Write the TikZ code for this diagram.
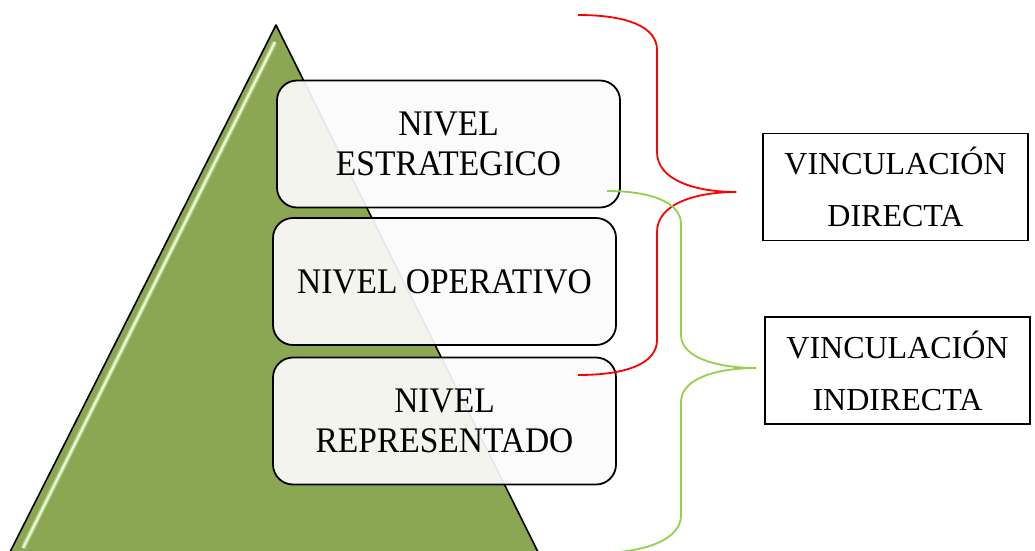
\documentclass[tikz,border=0pt]{standalone}
\usepackage{fontspec}
\setmainfont{Liberation Serif}
\newfontfamily\nivelfont[FakeStretch=0.93]{Liberation Serif}
\usetikzlibrary{calc}
\definecolor{olivo}{RGB}{139,167,83}
\definecolor{brillo}{RGB}{236,248,210}
\definecolor{verdeclaro}{RGB}{146,208,80}
\tikzset{>=stealth,
  nivel/.style={draw=black, line width=1.8pt, rounded corners=20pt, fill=white!97!gray, fill opacity=0.92, text opacity=1, minimum width=343pt, minimum height=127pt, inner sep=0pt, align=center, font=\nivelfont\fontsize{36}{40}\selectfont},
  vinculo/.style={draw=black, line width=1.5pt, fill=white, minimum width=265pt, minimum height=107pt, inner sep=0pt, align=center, font=\fontsize{32}{52}\selectfont},
  llaveroja/.style={red, line width=1.8pt},
  llaveverde/.style={verdeclaro, line width=1.8pt}}
\begin{document}
\begin{tikzpicture}[x=1pt,y=-1pt]

			\useasboundingbox (0,0) rectangle (1035,550);

			% piramide
			\draw [black, line width=1.6pt, line join=round, fill=olivo] (276,25) -- (538,552) -- (10,552) -- cycle;
			\draw [brillo, line width=5pt, opacity=0.4] (275,42) -- (23,548);
			\draw [brillo, line width=2.2pt] (275,42) -- (23,548);

			\node [nivel] (estrategico) at (448.5,144) {NIVEL\\ESTRATEGICO};
			\node [nivel] (operativo) at (444.5,281.5) {NIVEL OPERATIVO};
			\node [nivel] (representado) at (444.5,421) {NIVEL\\REPRESENTADO};

			\node [vinculo] (directa) at (895.5,187) {VINCULACIÓN\\DIRECTA};
			\node [vinculo] (indirecta) at (897.5,370.5) {VINCULACIÓN\\INDIRECTA};

			% llaves
			\coordinate (rojoA) at (578,15);
			\coordinate (rojoB) at (578,375);
			\coordinate (rojoP) at ($(directa.west)+(-26,5)$);
			\coordinate (verdeA) at (607,191);
			\coordinate (verdeB) at (600,553);
			\coordinate (verdeP) at ($(indirecta.west)+(-8,-2.5)$);

			\draw [llaveroja] (rojoA) .. controls (630,15) and (657,28) .. (657,50) -- (657,152) .. controls (657,180) and (695,192) .. (rojoP) .. controls (695,192) and (657,204) .. (657,232) -- (657,340) .. controls (657,362) and (630,375) .. (rojoB);
			\draw [llaveverde] (verdeA) .. controls (650,191) and (681,202) .. (681,224) -- (681,335) .. controls (681,358) and (718,368) .. (verdeP) .. controls (718,368) and (681,378) .. (681,402) -- (681,515) .. controls (681,538) and (650,552) .. (verdeB);

		\end{tikzpicture}
\end{document}
